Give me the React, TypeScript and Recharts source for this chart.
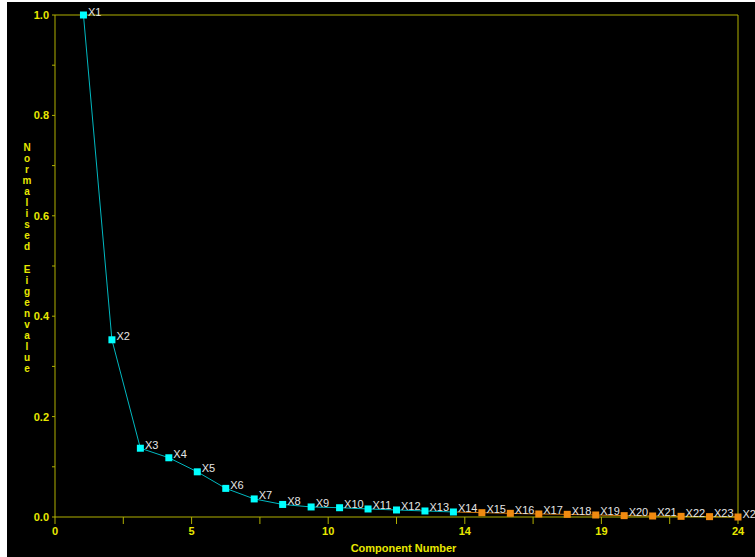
import React from "react";
import { LineChart, Line, XAxis, YAxis, ReferenceLine, LabelList } from "recharts";

const componentLabels = ["X1","X2","X3","X4","X5","X6","X7","X8","X9","X10","X11","X12","X13","X14","X15","X16","X17","X18","X19","X20","X21","X22","X23","X24"];
const componentNumbers = [1,2,3,4,5,6,7,8,9,10,11,12,13,14,15,16,17,18,19,20,21,22,23,24];
const eigenValues = [1.0,0.353,0.137,0.118,0.09,0.057,0.036,0.025,0.02,0.0185,0.016,0.014,0.012,0.01,0.0086,0.0073,0.006,0.0053,0.004,0.0027,0.002,0.0013,0.0007,0.0];
const retainedCount = 14;

const xTickValues = [0,2.4,4.8,7.2,9.6,12,14.4,16.8,19.2,21.6,24];
const xTickLabels = ["0","","5","","10","","14","","19","","24"];
const yTickValues = [0,0.1,0.2,0.3,0.4,0.5,0.6,0.7,0.8,0.9,1.0];
const yTickLabels = ["0.0","","0.2","","0.4","","0.6","","0.8","","1.0"];

const AXIS = "#B0B000";
const TICKTXT = "#E8E800";
const FONT = "Liberation Sans, Arial, sans-serif";

const data = componentNumbers.map((n, i) => ({
  x: n,
  label: componentLabels[i],
  a: i < retainedCount ? eigenValues[i] : null,
  b: i >= retainedCount - 1 ? eigenValues[i] : null,
}));

const showA = (i: number) => i < retainedCount;
const showB = (i: number) => i >= retainedCount;

const squareDot = (fill: string, show: (i: number) => boolean) => (props: any) => {
  const { cx, cy, index } = props;
  if (cx == null || cy == null || !show(index)) return <g key={`d${index}`} />;
  return <rect key={`d${index}`} x={cx - 3.5} y={cy - 3.5} width={7} height={7} fill={fill} />;
};

const pointLabel = (show: (i: number) => boolean) => (props: any) => {
  const { x, y, value, index } = props;
  if (x == null || y == null || !show(index)) return null;
  return (
    <text x={x + 4.5} y={y + 0.5} fill="#E6E6E6" fontSize={11} fontFamily={FONT}>
      {value}
    </text>
  );
};

const xTickFmt = (v: number) => {
  const i = xTickValues.indexOf(v);
  return i >= 0 ? xTickLabels[i] : "";
};
const yTickFmt = (v: number) => {
  const i = yTickValues.indexOf(v);
  return i >= 0 ? yTickLabels[i] : "";
};

const yTitle = "Normalised Eigenvalue";

const YTitle = () => {
  const cx = 20;
  const startY = 149;
  return (
    <text fill={TICKTXT} fontSize={10} fontWeight="bold" fontFamily={FONT} textAnchor="middle">
      {yTitle.split("").map((ch, i) => (
        <tspan key={i} x={cx} y={startY + i * 11.05}>{ch === " " ? "\u00a0" : ch}</tspan>
      ))}
    </text>
  );
};

const XTitle = (props: any) => {
  const vb = props.viewBox || { x: 48, y: 515, width: 683 };
  return (
    <text x={vb.x + vb.width / 2 + 7} y={vb.y + 35} fill={TICKTXT} fontSize={11} fontWeight="bold" fontFamily={FONT} textAnchor="middle">
      Component Number
    </text>
  );
};

export default function App() {
  return (
    <div style={{ position: "absolute", left: 7, top: 2, width: 748, height: 555, background: "#000" }}>
      <LineChart width={748} height={555} data={data} margin={{ top: 13, right: 17, bottom: 10, left: 8 }}>
        <XAxis
          dataKey="x"
          type="number"
          domain={[0, 24]}
          ticks={xTickValues}
          tickFormatter={xTickFmt}
          interval={0}
          height={30}
          stroke={AXIS}
          tickSize={7}
          tickMargin={3}
          tick={{ fill: TICKTXT, fontSize: 11, fontWeight: "bold", fontFamily: FONT }}
          label={<XTitle />}
        />
        <YAxis
          type="number"
          domain={[0, 1]}
          ticks={yTickValues}
          tickFormatter={yTickFmt}
          interval={0}
          width={40}
          stroke={AXIS}
          tickSize={3}
          tickMargin={3}
          tick={{ fill: TICKTXT, fontSize: 11, fontWeight: "bold", fontFamily: FONT }}
          label={<YTitle />}
        />
        <ReferenceLine y={1} stroke={AXIS} strokeWidth={1} />
        <ReferenceLine x={24} stroke={AXIS} strokeWidth={1} />
        <Line
          dataKey="b"
          stroke="#D07A10"
          strokeWidth={1}
          dot={squareDot("#F08A10", showB)}
          isAnimationActive={false}
          connectNulls={false}
        >
          <LabelList dataKey="label" content={pointLabel(showB)} />
        </Line>
        <Line
          dataKey="a"
          stroke="#00B8C0"
          strokeWidth={1}
          dot={squareDot("#00FFFF", showA)}
          isAnimationActive={false}
          connectNulls={false}
        >
          <LabelList dataKey="label" content={pointLabel(showA)} />
        </Line>
      </LineChart>
    </div>
  );
}
